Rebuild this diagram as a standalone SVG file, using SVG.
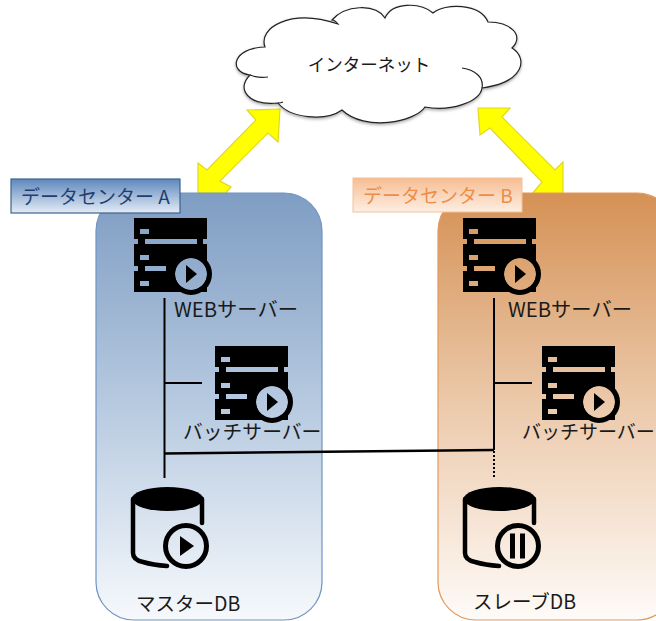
<svg xmlns="http://www.w3.org/2000/svg" width="656" height="621" viewBox="0 0 656 621">
<style>
text{font-family:"Noto Sans CJK JP","Noto Sans",sans-serif;fill:#1a1a1a}
.lbl{font-size:19.5px}
.web{font-size:20.3px}
.ln{stroke:#000;stroke-width:2;fill:none}
.arrow{fill:#ffff00;stroke:#e0d820;stroke-width:1.2;stroke-linejoin:miter}
</style>
<defs>
<linearGradient id="gA" x1="0" y1="0" x2="0" y2="1"><stop offset="0" stop-color="#7f9dc3"/><stop offset="0.5" stop-color="#b7cae0"/><stop offset="1" stop-color="#f6f9fc"/></linearGradient>
<linearGradient id="gB" x1="0" y1="0" x2="0" y2="1"><stop offset="0" stop-color="#d59155"/><stop offset="0.5" stop-color="#eccaac"/><stop offset="1" stop-color="#fefbf8"/></linearGradient>
<linearGradient id="gLA" x1="0" y1="0" x2="0" y2="1"><stop offset="0" stop-color="#5f88bd"/><stop offset="1" stop-color="#e4ecf6"/></linearGradient>
<linearGradient id="gLB" x1="0" y1="0" x2="0" y2="1"><stop offset="0" stop-color="#f7bd92"/><stop offset="1" stop-color="#fdeee2"/></linearGradient>
<filter id="sh" x="-10%" y="-10%" width="120%" height="125%"><feDropShadow dx="0" dy="1.5" stdDeviation="1.5" flood-color="#000" flood-opacity="0.35"/></filter>
<mask id="mS" maskUnits="userSpaceOnUse" x="0" y="0" width="90" height="90">
<rect x="0" y="0" width="90" height="90" fill="#fff"/>
<path fill="#000" d="M6 11h9v5H6zM6 37h9v5H6zM6 63h9v5H6zM11 21h52v5H11zM11 48h21v5H11zM0 21h4v5H0zM69 21h4v5h-4zM0 48h4v5H0z"/>
<circle cx="57" cy="56" r="16" fill="#000"/>
</mask>
<g id="server">
<g mask="url(#mS)"><rect x="0" y="0" width="73" height="74" fill="#000"/></g>
<circle cx="57" cy="56" r="18.5" fill="none" stroke="#000" stroke-width="5"/>
<path d="M52 47l11 9-11 9z" fill="#000"/>
</g>
<g id="db">
<ellipse cx="36.5" cy="12" rx="36" ry="12" fill="#000"/>
<path d="M2 12V66Q2 73 12 75Q22 78 36 79M71 12V36" fill="none" stroke="#000" stroke-width="4.500" stroke-linecap="round"/>
<circle cx="55" cy="59" r="20.5" fill="none" stroke="#000" stroke-width="5"/>
</g>
</defs>

<g id="arrow-a"><polygon class="arrow" points="280,109 278,142 268,133 220,181 231,187 225,194 198,194 198,163 207,170 256,120 247,110"/></g>
<g id="arrow-b"><polygon class="arrow" points="478,108 510,108 502,117 555,170 563,162 563,194 532,194 542,182 490,128 480,135"/></g>

<g id="cloud">
<path filter="url(#sh)" fill="#fff" stroke="#222" stroke-width="1.2" d="M265,47C258,28 290,8 338,24C335,20 333,20 332,20C345,5 375,3 385,18C392,2 420,2 433,13C445,3 480,3 488,22C510,22 525,35 512,48C528,58 525,82 482,88C480,102 450,112 425,107C415,122 365,132 342,110C325,122 290,118 278,103C250,106 235,90 250,75C228,72 232,48 265,47Z"/>
<path fill="none" stroke="#222" stroke-width="1.2" d="M268,77C262,78 255,77 250,75M283,102C281,103 279,103 278,103M462,68C476,70 484,78 482,88"/>
<text x="369" y="71" text-anchor="middle" font-size="17.500">インターネット</text>
</g>

<g id="dc-a">
<rect x="96" y="193" width="226" height="427" rx="38" fill="url(#gA)" stroke="#6f94c4" stroke-width="1.2"/>
</g>
<g id="dc-b">
<rect x="438" y="193" width="237" height="427" rx="38" fill="url(#gB)" stroke="#e39a5c" stroke-width="1.2"/>
</g>

<g id="connectors">
<path class="ln" d="M164.500 298V478M164 383H202"/>
<path class="ln" d="M494 298V450M494 383H532"/>
<path class="ln" d="M164 453.500L494 450" style="stroke-width:2.500"/>
<path class="ln" stroke-dasharray="2 2" d="M494 451V479"/>
</g>

<g id="label-a">
<rect x="11" y="179" width="169" height="34" fill="url(#gLA)" stroke="#3f628f" stroke-width="1.2"/>
<text x="21" y="204" font-size="19" style="fill:#1f3f6e">データセンター A</text>
</g>
<g id="label-b">
<rect x="353" y="178" width="169" height="34" fill="url(#gLB)" stroke="#f3c19a" stroke-width="1"/>
<text x="363" y="203" font-size="19" style="fill:#ec8d4a">データセンター B</text>
</g>

<g id="web-a"><use href="#server" x="134" y="218"/><text class="web" x="174" y="317">WEBサーバー</text></g>
<g id="batch-a"><use href="#server" x="215" y="346"/><text class="lbl" x="183" y="439" style="font-size:19.8px">バッチサーバー</text></g>
<g id="db-a"><use href="#db" x="131" y="487"/><path d="M180 536l14 10-14 10z" fill="#000"/><text class="lbl" x="136" y="611">マスターDB</text></g>
<g id="web-b"><use href="#server" x="463" y="218"/><text class="web" x="508" y="317">WEBサーバー</text></g>
<g id="batch-b"><use href="#server" x="542" y="346"/><text x="522" y="439" font-size="19">バッチサーバー</text></g>
<g id="db-b"><use href="#db" x="463" y="487"/><path d="M510 533.500h5v25h-5zM520 533.500h5v25h-5z" fill="#000"/><text class="lbl" x="473" y="609">スレーブDB</text></g>
</svg>
